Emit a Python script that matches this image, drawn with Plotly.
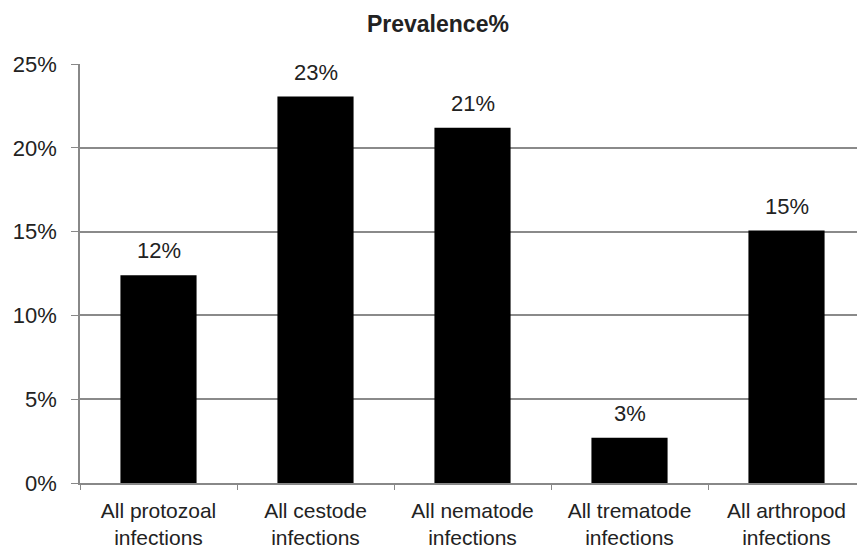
import plotly.graph_objects as go

categories = ["All protozoal<br>infections", "All cestode<br>infections", "All nematode<br>infections",
              "All trematode<br>infections", "All arthropod<br>infections"]
values = [12.4, 23.06, 21.2, 2.7, 15.06]
value_labels = ["12%", "23%", "21%", "3%", "15%"]
y_ticks = [0, 5, 10, 15, 20, 25]
y_tick_labels = ["0%", "5%", "10%", "15%", "20%", "25%"]

FONT = "Liberation Sans, Arial, sans-serif"
TXT = "#222222"

fig = go.Figure()
fig.add_trace(go.Bar(x=categories, y=values, width=0.485,
                     marker=dict(color="#000000", line=dict(width=0)),
                     hoverinfo="skip"))

for c, v, t in zip(categories, values, value_labels):
    fig.add_annotation(x=c, y=v, text=t, showarrow=False, yanchor="bottom",
                       yshift=10, font=dict(family=FONT, size=22, color=TXT))

fig.update_layout(
    width=857, height=553,
    margin=dict(l=80, r=0, t=64, b=70),
    paper_bgcolor="white", plot_bgcolor="white",
    showlegend=False,
    title=dict(text="<b>Prevalence%</b>", x=0.511, xanchor="center", y=0.957, yanchor="middle",
               font=dict(family=FONT, size=23, color=TXT)),
    xaxis=dict(range=[-0.5, 4.449], tickson="boundaries", ticks="outside", ticklen=5,
               tickcolor="#888888", showline=True, linecolor="#888888", linewidth=1.5,
               showgrid=False, tickfont=dict(family=FONT, size=21, color=TXT),
               ticklabelstandoff=8, fixedrange=True, automargin=False),
    yaxis=dict(range=[0, 25], tickvals=y_ticks, ticktext=y_tick_labels, ticks="outside",
               ticklen=7, tickcolor="#888888", showline=True, linecolor="#888888", linewidth=1.5,
               showgrid=True, gridcolor="#8a8a8a", gridwidth=1.5, zeroline=False,
               tickfont=dict(family=FONT, size=22, color=TXT), ticklabelstandoff=10,
               fixedrange=True, automargin=False),
)

fig.write_html("out.html")
